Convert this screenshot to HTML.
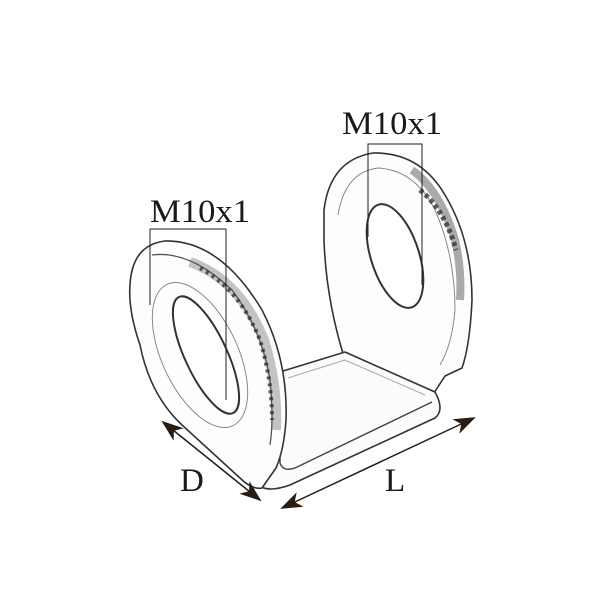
<!DOCTYPE html>
<html><head><style>
html,body{margin:0;padding:0;background:#fff;}
svg{display:block;}
text{font-family:"Liberation Serif",serif;fill:#1a1a1a;}
</style></head><body>
<svg width="600" height="600" viewBox="0 0 600 600" xmlns="http://www.w3.org/2000/svg">
<defs>
<marker id="ah2" markerWidth="22" markerHeight="16" refX="20" refY="8" orient="auto-start-reverse" markerUnits="userSpaceOnUse">
<path d="M0,0 L22,8 L0,16 L6,8 Z" fill="#2a1c10"/>
</marker>
</defs>
<g fill="none" stroke="#333" stroke-width="1.6" stroke-linejoin="round">
<!-- right lug -->
<path d="M324,210 Q330,160 373,153 Q420,152 445,195 Q472,240 472,300 Q470,345 462,368 L445,376 L432,396 L345,360 Q326,300 324,240 Z" fill="#fdfdfd"/>
<path d="M338,215 Q345,172 378,168 Q415,170 435,210 Q455,255 455,310 Q452,345 440,365" stroke="#888" stroke-width="1"/>
<path d="M412,170 Q440,190 455,240 Q462,270 460,300" stroke="#666" stroke-width="8" opacity="0.55"/>
<path d="M420,190 Q445,210 456,250" stroke="#333" stroke-width="5" stroke-dasharray="4 3" opacity="0.8"/>
<ellipse cx="395" cy="256" rx="24" ry="54" transform="rotate(-18 395 256)" fill="#fff" stroke-width="2"/>
<!-- base plate -->
<path d="M270,375 L345,352 L435,392 Q445,410 435,418 L290,485 Q262,495 255,480 Z" fill="#fbfbfb"/>
<path d="M280,372 L280,463 Q283,472 295,468 L432,402" stroke="#444" stroke-width="1.4"/>
<path d="M288,378 L345,360 L425,395" stroke="#aaa" stroke-width="1"/>
<!-- left lug -->
<path d="M130,285 Q132,245 165,241 Q220,240 262,310 Q288,360 286,420 Q284,450 276,468 L262,488 Q252,490 240,478 L182,425 Q150,395 140,345 Q128,310 130,285 Z" fill="#fdfdfd"/>
<path d="M152,255 Q190,250 232,290 Q262,330 270,380 Q274,420 270,445" stroke="#555" stroke-width="1.3"/>
<path d="M190,262 Q240,280 264,340 Q278,385 276,430" stroke="#555" stroke-width="10" opacity="0.35"/>
<path d="M200,268 Q240,290 260,340 Q272,380 272,420" stroke="#222" stroke-width="4" stroke-dasharray="3 4" opacity="0.7"/>
<ellipse cx="200" cy="355" rx="38" ry="78" transform="rotate(-25 200 355)" stroke="#888" stroke-width="1"/>
<ellipse cx="206" cy="355" rx="21" ry="64" transform="rotate(-25 206 355)" fill="#fff" stroke-width="2"/>
</g>
<!-- dimension leaders -->
<g fill="none" stroke="#2a1c10" stroke-width="1">
<path d="M150,305 L150,229 L226,229 L226,400"/>
<path d="M368,237 L368,144 L422,144 L422,285"/>
</g>
<!-- arrows -->
<g stroke="#2a1c10" stroke-width="1.5">
<line x1="163" y1="422" x2="260" y2="500" marker-start="url(#ah2)" marker-end="url(#ah2)"/>
<line x1="282" y1="508" x2="474" y2="418" marker-start="url(#ah2)" marker-end="url(#ah2)"/>
</g>
<text x="150" y="222" font-size="33" textLength="100" lengthAdjust="spacingAndGlyphs">M10x1</text>
<text x="342" y="134" font-size="33" textLength="100" lengthAdjust="spacingAndGlyphs">M10x1</text>
<text x="180" y="491" font-size="33">D</text>
<text x="385" y="491" font-size="33">L</text>
</svg>
</body></html>
